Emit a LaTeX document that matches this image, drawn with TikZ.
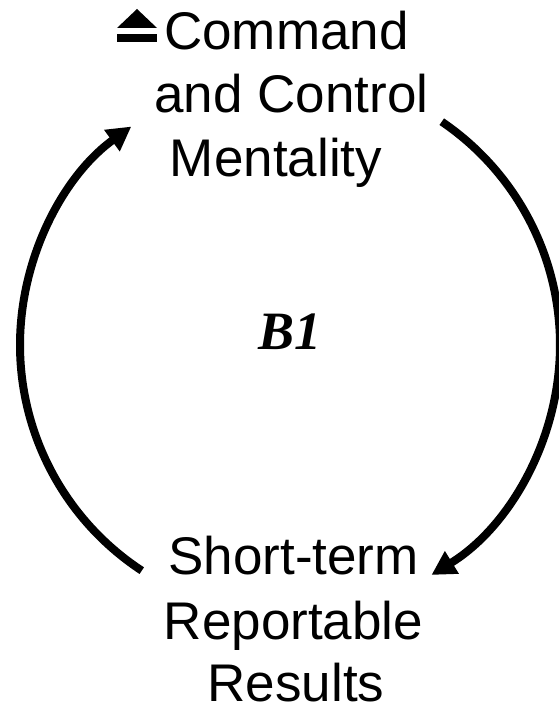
\documentclass[tikz,border=0pt]{standalone}
\usepackage{fontspec}
\setmainfont{Liberation Sans}
\newfontfamily\bfont{Liberation Serif}
\usetikzlibrary{arrows.meta,calc}
\begin{document}
\begin{tikzpicture}[x=1pt,y=1pt,
  lbl/.style={inner sep=0pt,anchor=base,font=\fontsize{53}{63}\selectfont},
  loop/.style={line width=8pt,-{Triangle[length=24pt,width=25pt]}}]
\useasboundingbox (0,0) rectangle (558,714);
\fill[white] (0,0) rectangle (558,714);
% top label
\node[lbl] (t1) at (286.5,664) {Command};
\node[lbl] (t2) at (291.5,601) {and Control};
\node[lbl] (t3) at (276,537) {Mentality};
% eject-like symbol
\fill (117,686) -- (137,705) -- (157,686) -- cycle;
\fill (117,672) rectangle (157,680);
% bottom label
\node[lbl] (b1) at (293.5,139) {Short-term};
\node[lbl] (b2) at (293.5,74) {Reportable};
\node[lbl] (b3) at (296,12) {Results};
% loop label
\node[inner sep=0pt,anchor=base,font=\fontsize{54}{60}\selectfont\bfont\bfseries\itshape] (lp) at (290,364) {B1};
% arcs
\coordinate (c) at (290,369);
\coordinate (ls) at ($(c)+(236.7:270)$);
\coordinate (rs) at ($(c)+(55.8:270)$);
\draw[loop] (ls) arc[start angle=236.7,end angle=126,radius=270];
\draw[loop] (rs) arc[start angle=55.8,end angle=-58.4,radius=270];
\end{tikzpicture}
\end{document}
